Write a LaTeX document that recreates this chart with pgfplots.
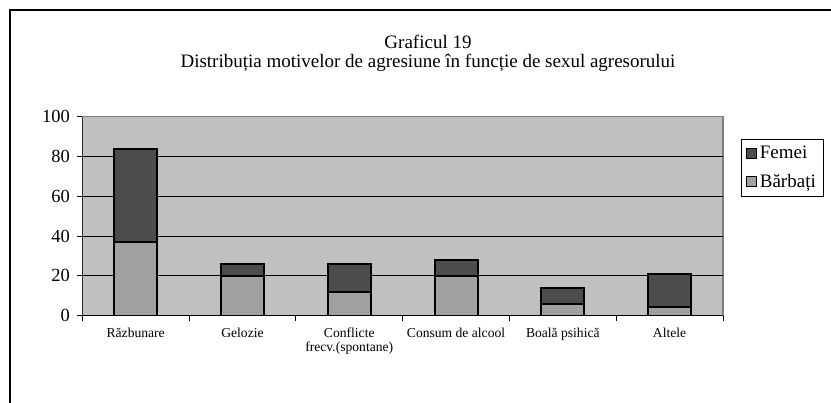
\documentclass[border=0pt]{standalone}
\usepackage{pgfplots}
\pgfplotsset{compat=1.18}
\usepackage{fontspec}
\setmainfont{Liberation Serif}
\definecolor{plotbg}{RGB}{192,192,192}
\definecolor{lightbar}{RGB}{160,160,160}
\definecolor{darkbar}{RGB}{77,77,77}
\definecolor{frame}{RGB}{128,128,128}
\begin{document}
\begin{tikzpicture}[x=1pt,y=1pt]
\path[use as bounding box] (0,0) rectangle (831,403);
\draw[line width=1.5pt] (10,-2) -- (10,393) -- (835,393);
\node[font=\fontsize{19}{20}\selectfont] at (428,361) {Graficul 19};
\node[font=\fontsize{19}{20}\selectfont] at (428,340) {Distribuția motivelor de agresiune în funcție de sexul agresorului};
\begin{axis}[
  at={(82.3pt,87.3pt)}, anchor=south west,
  width=640.7pt, height=199pt, scale only axis,
  ybar stacked, bar width=43pt,
  xmin=-0.5, xmax=5.5, ymin=0, ymax=100,
  xtick={0,1,2,3,4,5},
  xticklabels={Răzbunare,Gelozie,Conflicte\\frecv.(spontane),Consum de alcool,Boală psihică,Altele},
  xticklabel style={font=\fontsize{13.6}{14}\selectfont, align=center, yshift=-4pt},
  major x tick style={draw=none},
  minor xtick={-0.5,0.5,1.5,2.5,3.5,4.5,5.5},
  minor x tick style={black, line width=0.8pt},
  minor tick length=5pt,
  ytick={0,20,40,60,80,100},
  y tick style={black, line width=0.8pt},
  major tick length=5pt,
  tick align=outside,
  tick pos=left,
  yticklabel style={font=\fontsize{18.5}{20}\selectfont, xshift=-4pt},
  /pgf/number format/assume math mode=true,
  extra y ticks={20,40,60,80},
  extra y tick labels={},
  extra y tick style={grid=major, major tick length=0pt},
  grid style={black, line width=0.8pt},
  axis background/.style={fill=plotbg},
  axis line style={frame, line width=1.2pt},
  legend style={at={(1.0276,0.888)}, anchor=north west, draw=black, line width=0.8pt,
    font=\fontsize{19}{20}\selectfont, inner xsep=5pt, inner ysep=5pt, row sep=10pt,
    nodes={inner xsep=2.5pt, inner ysep=2pt}, legend cell align=left},
  reverse legend,
  legend image code/.code={\draw[#1, line width=1.3pt] (0pt,-5pt) rectangle (10pt,5pt);},
]
\addplot[fill=lightbar, draw=black, line width=2pt] coordinates {(0,37) (1,20) (2,12) (3,20) (4,6) (5,4.5)};
\addlegendentry{Bărbați}
\addplot[fill=darkbar, draw=black, line width=2pt] coordinates {(0,47) (1,6) (2,14) (3,8) (4,8) (5,16.5)};
\addlegendentry{Femei}
\draw[black, line width=1.2pt] (rel axis cs:0,0) -- (rel axis cs:0,1);
\draw[black, line width=1.2pt] (rel axis cs:0,0) -- (rel axis cs:1,0);
\end{axis}
\end{tikzpicture}
\end{document}
